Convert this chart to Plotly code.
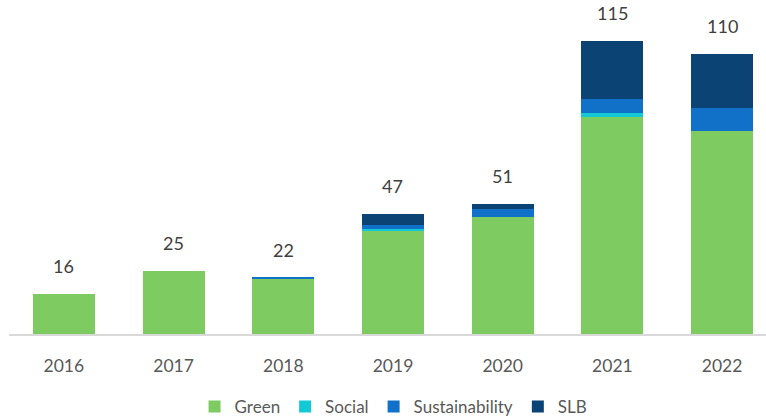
import plotly.graph_objects as go

# Annual issuance by bond type
years = ["2016", "2017", "2018", "2019", "2020", "2021", "2022"]
green = [15.6, 24.8, 21.8, 40.5, 46.0, 85.0, 79.5]
social = [0.0, 0.0, 0.0, 0.6, 0.0, 1.5, 0.0]
sustainability = [0.0, 0.0, 0.2, 1.6, 3.0, 5.5, 9.0]
slb = [0.0, 0.0, 0.0, 4.3, 2.0, 23.0, 21.5]

series = [
    ("Green", green, "#7ECB62"),
    ("Social", social, "#14C9D6"),
    ("Sustainability", sustainability, "#1170C7"),
    ("SLB", slb, "#0B4374"),
]

xpos = list(range(len(years)))
totals = [sum(v) for v in zip(green, social, sustainability, slb)]

fig = go.Figure()
for name, vals, color in series:
    fig.add_trace(go.Bar(
        x=xpos, y=vals, name=name, width=0.565,
        marker=dict(color=color, line=dict(width=0)),
        hoverinfo="skip",
    ))

for x, t in zip(xpos, totals):
    fig.add_annotation(
        x=x, y=t, text=f"{t:.0f}", showarrow=False,
        yanchor="bottom", yshift=15,
        font=dict(family="Lato", size=18, color="#404040"),
    )

fig.update_layout(
    barmode="stack",
    width=766, height=417,
    margin=dict(l=9, r=0, t=0, b=83),
    paper_bgcolor="white", plot_bgcolor="white",
    bargap=0.435,
    font=dict(family="Lato", color="#595959"),
    xaxis=dict(
        range=[-0.5, 6.40],
        tickmode="array", tickvals=xpos, ticktext=years,
        showgrid=False, zeroline=False,
        showline=True, linecolor="#D9D9D9", linewidth=2,
        ticks="outside", ticklen=15, tickcolor="rgba(0,0,0,0)",
        tickfont=dict(family="Lato", size=17.5, color="#595959"),
        fixedrange=True,
    ),
    yaxis=dict(
        range=[0, 131], visible=False, showgrid=False, zeroline=False,
        fixedrange=True,
    ),
    legend=dict(
        orientation="h", x=0.508, xanchor="center",
        yref="container", y=0.024, yanchor="middle",
        font=dict(family="Lato", size=17, color="#595959"),
        itemwidth=30, traceorder="normal",
    ),
    showlegend=True,
)

fig.write_html("out.html")
